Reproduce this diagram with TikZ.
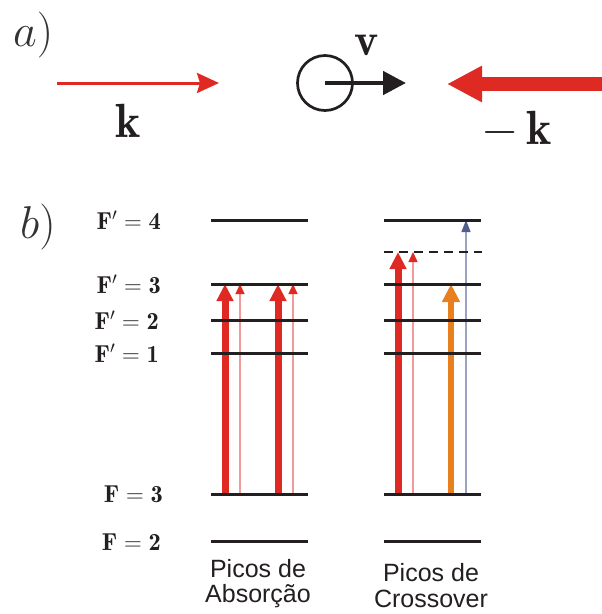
\RequirePackage{fix-cm}
\documentclass[tikz,border=0pt]{standalone}
\usepackage{fontspec}
\newfontfamily\arialfont{Liberation Sans}
\usetikzlibrary{arrows.meta}
\definecolor{lred}{HTML}{DE2A22}
\definecolor{pinkline}{HTML}{F09A9A}
\definecolor{aorange}{HTML}{E8801F}
\definecolor{slate}{HTML}{4F5F8A}
\definecolor{slateline}{HTML}{9AA3C0}
\definecolor{txt}{HTML}{231F20}
\begin{document}
\begin{tikzpicture}[x=1pt,y=-1pt,
  level/.style={line width=3pt, draw=txt},
  lvllabel/.style={anchor=base east, inner sep=0pt, text=txt, font=\fontsize{24.5}{24.5}\selectfont},
  thickred/.style={line width=7pt, draw=lred, -{Triangle[length=17pt,width=16pt]}},
  thinred/.style={line width=1.3pt, draw=pinkline, -{Triangle[length=10pt,width=9pt,color=lred]}},
  thickorange/.style={line width=6pt, draw=aorange, -{Triangle[length=18pt,width=17pt]}},
  thinslate/.style={line width=1.3pt, draw=slateline, -{Triangle[length=12pt,width=9pt,color=slate]}},
  caption/.style={anchor=base, inner sep=0pt, text=txt, font=\arialfont\fontsize{25}{26}\selectfont},
  bigmath/.style={anchor=base, inner sep=0pt, text=txt, font=\fontsize{48}{48}\selectfont},
  partlabel/.style={anchor=base west, inner sep=0pt, text=black!80, font=\fontsize{46}{46}\selectfont}
]
\useasboundingbox (0,0) rectangle (602,614);

% ---------- part a ----------
\node[partlabel] (alabel) at (13,46) {$a)$};
\coordinate (kstart) at (57,83);
\coordinate (kend) at (219,83);
\draw[line width=3pt, draw=lred, -{Stealth[length=22pt,width=20pt,inset=3pt]}] (kstart) -- (kend);
\node[bigmath] (klabel) at (128,137) {$\mathbf{k}$};

\node[circle, draw=txt, line width=2.7pt, minimum size=55pt, inner sep=0pt] (atom) at (325,83) {};
\coordinate (vtip) at (406,83);
\draw[line width=4.7pt, draw=txt, -{Triangle[length=23pt,width=23pt]}] (atom.center) -- (vtip);
\node[bigmath, font=\fontsize{46}{46}\selectfont] (vlabel) at (367,55) {$\mathbf{v}$};

\coordinate (mkstart) at (603,84);
\coordinate (mkend) at (447,84);
\draw[line width=14pt, draw=lred, -{Triangle[length=35pt,width=34pt]}] (mkstart) -- (mkend);
\node[bigmath] (mklabel) at (517,144) {$-\,\mathbf{k}$};

% ---------- part b ----------
\node[partlabel] (blabel) at (20,238) {$b)$};

% transition coordinates
\coordinate (a1s) at (225,494); \coordinate (a1e) at (225,284);
\coordinate (a2s) at (240,494); \coordinate (a2e) at (240,284);
\coordinate (a3s) at (278,494); \coordinate (a3e) at (278,284);
\coordinate (a4s) at (293,494); \coordinate (a4e) at (293,284);
\coordinate (c1s) at (398,494); \coordinate (c1e) at (398,252);
\coordinate (c2s) at (413,494); \coordinate (c2e) at (413,252);
\coordinate (c3s) at (451,494); \coordinate (c3e) at (451,284);
\coordinate (c4s) at (466,494); \coordinate (c4e) at (466,220);

\draw[thickred] (a1s) -- (a1e);
\draw[thinred] (a2s) -- (a2e);
\draw[thickred] (a3s) -- (a3e);
\draw[thinred] (a4s) -- (a4e);
\draw[thickred] (c1s) -- (c1e);
\draw[thinred] (c2s) -- (c2e);
\draw[thickorange] (c3s) -- (c3e);
\draw[thinslate] (c4s) -- (c4e);

% levels
\foreach \y/\n in {220/F4,284/F3,320/F2,353/F1,494/G3,541/G2}{
  \draw[level] (211,\y) -- (308,\y);
  \draw[level] (384,\y) -- (481,\y);
}
\draw[line width=2pt, draw=txt, dash pattern=on 9pt off 6pt] (384,252) -- (482,252);

% level labels
\node[lvllabel] (lF4) at (161,229) {$\mathbf{F}'=\mathbf{4}$};
\node[lvllabel] (lF3) at (161,293) {$\mathbf{F}'=\mathbf{3}$};
\node[lvllabel] (lF2) at (159,329) {$\mathbf{F}'=\mathbf{2}$};
\node[lvllabel] (lF1) at (159,362) {$\mathbf{F}'=\mathbf{1}$};
\node[lvllabel] (lG3) at (163,502) {$\mathbf{F}=\mathbf{3}$};
\node[lvllabel] (lG2) at (161,550) {$\mathbf{F}=\mathbf{2}$};

% captions
\node[caption] (capa1) at (258,577) {Picos de};
\node[caption] (capa2) at (258,602) {Absorção};
\node[caption] (capb1) at (431,581) {Picos de};
\node[caption] (capb2) at (431,607) {Crossover};
\end{tikzpicture}
\end{document}
